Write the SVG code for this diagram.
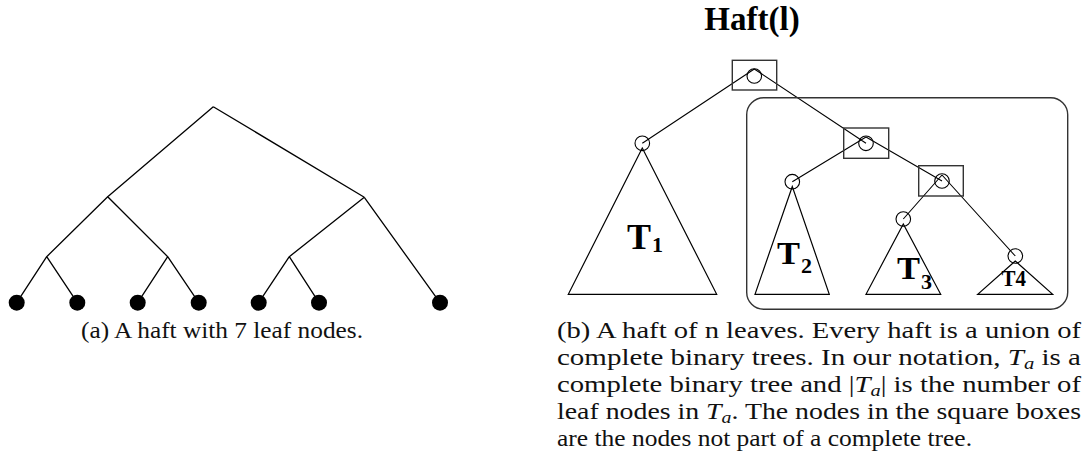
<svg xmlns="http://www.w3.org/2000/svg" width="1091" height="475" viewBox="0 0 1091 475">
<style>
.e{stroke:#000;stroke-width:1.3;fill:none}
.leaf{fill:#000}
.tri{stroke:#000;stroke-width:1.2;fill:none}
.nd{stroke:#000;stroke-width:1.1;fill:none}
.box{stroke:#333;stroke-width:1.4;fill:none}
.cap{font-family:"Liberation Serif","DejaVu Serif",serif;font-size:22.5px;fill:#111}
.lab{font-family:"Liberation Serif","DejaVu Serif",serif;font-weight:bold;fill:#000}
.sub{font-size:16px;font-style:italic}
</style>
<rect width="1091" height="475" fill="#fff"/>
<g id="connectors">
<path class="e" d="M213.3,106.7 L107.7,196.7 M213.3,106.7 L364.3,197.3 M107.7,196.7 L46.7,256.7 M107.7,196.7 L167.7,256.7 M364.3,197.3 L289.3,256.7 M364.3,197.3 L440,302.7 M46.7,256.7 L16.7,302.7 M46.7,256.7 L77.3,302.7 M167.7,256.7 L137.7,302.7 M167.7,256.7 L198.7,302.7 M289.3,256.7 L258.7,302.7 M289.3,256.7 L319,302.7"/>
<path class="e" style="stroke-width:1.1" d="M754.3,69 L642.3,143.3 M754.3,69 L866,143.3 M866,137 L792.3,181.7 M866,137 L942,181 M942,175 L903.3,219 M942,175 L1015.3,256"/>
</g>
<g id="haft-left">
<circle class="leaf" cx="16.7" cy="302.7" r="8"/>
<circle class="leaf" cx="77.3" cy="302.7" r="8"/>
<circle class="leaf" cx="137.7" cy="302.7" r="8"/>
<circle class="leaf" cx="198.7" cy="302.7" r="8"/>
<circle class="leaf" cx="258.7" cy="302.7" r="8"/>
<circle class="leaf" cx="319" cy="302.7" r="8"/>
<circle class="leaf" cx="440" cy="302.7" r="8"/>
</g>
<text class="cap" x="81" y="338" textLength="282" lengthAdjust="spacingAndGlyphs">(a) A haft with 7 leaf nodes.</text>
<g id="title"><text class="lab" x="752" y="30" font-size="33" text-anchor="middle">Haft(l)</text></g>
<g id="group-box"><rect class="box" x="746.7" y="97.7" width="321" height="211.6" rx="17"/></g>
<g id="root">
<rect class="box" x="732.3" y="60.3" width="44.4" height="29.7"/>
<circle class="nd" cx="754.3" cy="76" r="7.3"/>
</g>
<g id="mid">
<rect class="box" x="843.7" y="128" width="45" height="30.3"/>
<circle class="nd" cx="866" cy="143.3" r="7.3"/>
</g>
<g id="right">
<rect class="box" x="918.7" y="165.7" width="44.6" height="30.3"/>
<circle class="nd" cx="942" cy="181" r="7.3"/>
</g>
<g id="T1">
<path class="tri" d="M642.3,148 L568.3,294.3 L716.7,294.3 Z"/>
<circle class="nd" cx="642.3" cy="143.3" r="7.3"/>
<text class="lab" x="627" y="249" font-size="36" textLength="24" lengthAdjust="spacingAndGlyphs">T</text>
<text class="lab" x="652" y="252" font-size="22">1</text>
</g>
<g id="T2">
<path class="tri" d="M792.3,186.5 L755,294.3 L829.3,294.3 Z"/>
<circle class="nd" cx="792.3" cy="181.7" r="7.3"/>
<text class="lab" x="777" y="264" font-size="31" textLength="23" lengthAdjust="spacingAndGlyphs">T</text>
<text class="lab" x="801" y="273" font-size="22">2</text>
</g>
<g id="T3">
<path class="tri" d="M903.3,224 L866,294.3 L940.7,294.3 Z"/>
<circle class="nd" cx="903.3" cy="219" r="7.3"/>
<text class="lab" x="897" y="279" font-size="31" textLength="23" lengthAdjust="spacingAndGlyphs">T</text>
<text class="lab" x="921" y="289" font-size="22">3</text>
</g>
<g id="T4">
<path class="tri" d="M1015.3,261 L977.7,294.3 L1052.7,294.3 Z"/>
<circle class="nd" cx="1015.3" cy="256" r="7.3"/>
<text class="lab" x="1001.5" y="286" font-size="23" textLength="24.5" lengthAdjust="spacingAndGlyphs">T4</text>
</g>
<g id="caption-b" class="cap">
<text x="557" y="338" textLength="524" lengthAdjust="spacingAndGlyphs">(b) A haft of n leaves.  Every haft is a union of</text>
<text x="557" y="365" textLength="524" lengthAdjust="spacingAndGlyphs">complete binary trees.  In our notation, <tspan font-style="italic">T</tspan><tspan class="sub" dy="4">a</tspan><tspan dy="-4"> is a</tspan></text>
<text x="557" y="392" textLength="524" lengthAdjust="spacingAndGlyphs">complete binary tree and |<tspan font-style="italic">T</tspan><tspan class="sub" dy="4">a</tspan><tspan dy="-4">| is the number of</tspan></text>
<text x="557" y="419" textLength="524" lengthAdjust="spacingAndGlyphs">leaf nodes in <tspan font-style="italic">T</tspan><tspan class="sub" dy="4">a</tspan><tspan dy="-4">.  The nodes in the square boxes</tspan></text>
<text x="557" y="446" textLength="415" lengthAdjust="spacingAndGlyphs">are the nodes not part of a complete tree.</text>
</g>
</svg>
